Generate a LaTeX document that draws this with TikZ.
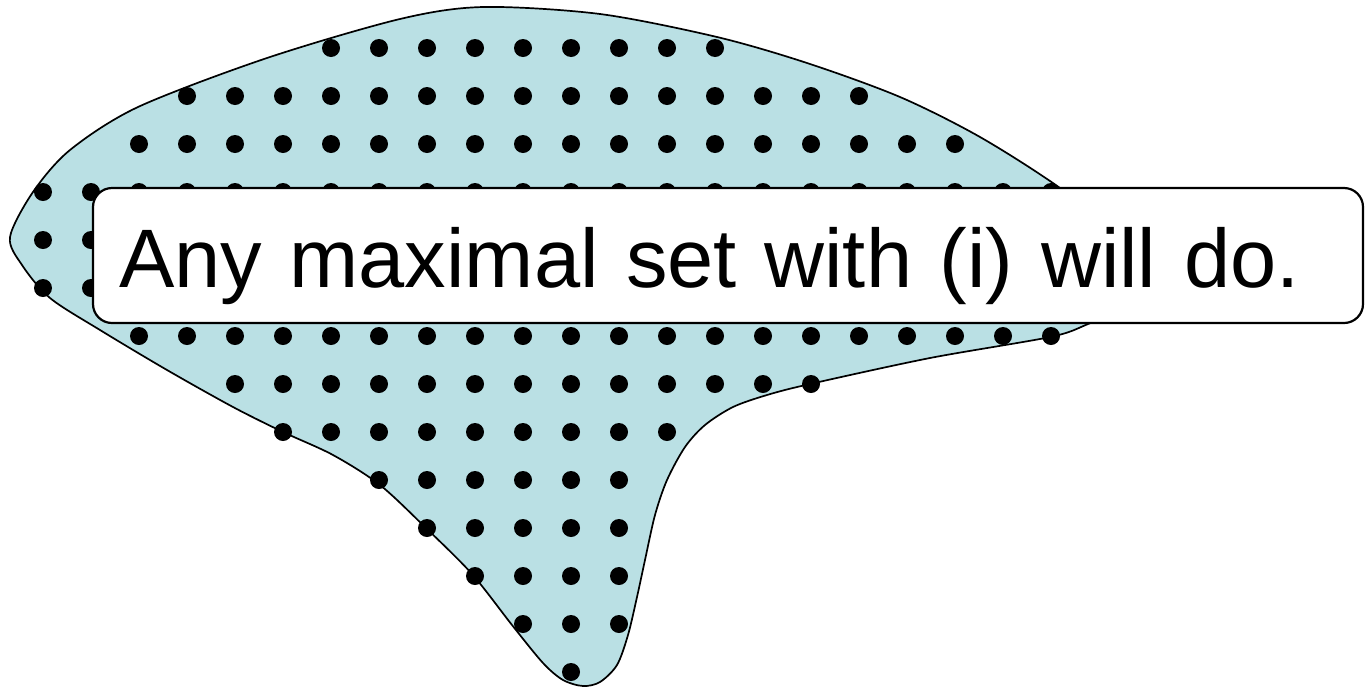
\documentclass[tikz,border=0pt]{standalone}
\usepackage{fontspec}
\setmainfont{Liberation Sans}
\definecolor{blobfill}{RGB}{186,224,228}
\tikzset{
  blob/.style={fill=blobfill, draw=black, line width=1.7pt},
  gdot/.style={fill=black},
  msgbox/.style={draw=black, fill=white, line width=2.2pt, rounded corners=19pt,
    inner xsep=26pt, inner ysep=0pt, text width=1218pt, text height=99pt, text depth=36pt,
    align=left, anchor=north west, outer sep=0pt, font=\fontsize{83pt}{100pt}\selectfont}
}
\begin{document}
\begin{tikzpicture}[x=1pt,y=-1pt]
\useasboundingbox (0,0) rectangle (1365,686);
\path[blob] plot[smooth cycle, tension=0.5] coordinates {
  (10,237) (33,192) (70,150) (138,107) (267,58) (400,19) (483,7) (600,14) (717,37)
  (807,63) (900,97) (980,137) (1060,188) (1120,238) (1140,300) (1088,324) (1050,337)
  (930,358) (810,384) (767,395) (733,407) (705,425) (685,447) (667,480) (655,515)
  (645,560) (637,597) (628,635) (617,665) (600,682) (583,686) (563,680) (543,663)
  (512,625) (472,574) (427,529) (380,485) (333,455) (283,432) (233,407) (167,370)
  (100,330) (50,298) (22,265)};
\foreach \j/\a/\b in {0/6/14, 1/3/17, 2/2/19, 3/0/21, 4/0/21, 5/0/21, 6/2/21, 7/4/16,
  8/5/13, 9/7/12, 10/8/12, 11/9/12, 12/10/12, 13/11/11} {
  \foreach \i in {\a,...,\b} {
    \fill[gdot] ({43+48*\i},{48+48*\j}) circle (9pt);
  }
}
\node[msgbox] (msg) at (93,188) {Any maximal set with (i) will do.};
\end{tikzpicture}
\end{document}
